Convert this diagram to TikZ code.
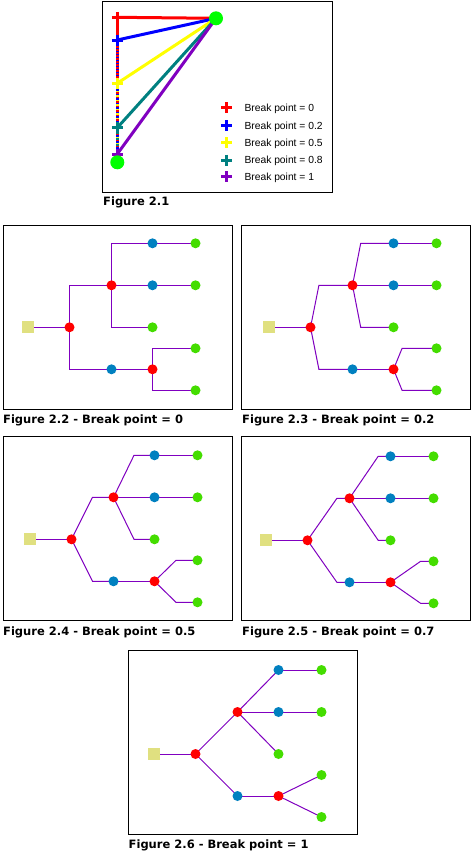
\documentclass[tikz,border=0pt]{standalone}
\usepackage{fontspec}
\newfontfamily\capfont{DejaVu Sans}
\newfontfamily\legfont{Liberation Sans}
\usetikzlibrary{calc,backgrounds}
\definecolor{edgecol}{RGB}{128,0,192}
\definecolor{sqcol}{RGB}{224,224,128}
\definecolor{nred}{RGB}{255,0,0}
\definecolor{nblue}{RGB}{0,128,192}
\definecolor{ngreen}{RGB}{68,221,0}
\definecolor{bgreen}{RGB}{0,255,0}
\definecolor{rblue}{RGB}{0,0,255}
\definecolor{ryellow}{RGB}{255,255,0}
\definecolor{rteal}{RGB}{0,128,128}
\definecolor{rpurple}{RGB}{128,0,192}
\tikzset{
  frame/.style={draw=black,line width=1pt},
  capt/.style={anchor=base west,inner sep=0pt,font=\capfont\bfseries\fontsize{11.5}{13}\selectfont},
  leg/.style={anchor=base west,inner sep=0pt,font=\legfont\fontsize{10.3}{12}\selectfont},
  sqnode/.style={rectangle,fill=sqcol,draw=none,minimum size=12pt,inner sep=0pt},
  rdn/.style={circle,fill=nred,draw=none,minimum size=10pt,inner sep=0pt},
  bln/.style={circle,fill=nblue,draw=none,minimum size=10pt,inner sep=0pt},
  grn/.style={circle,fill=ngreen,draw=none,minimum size=10pt,inner sep=0pt},
  bignode/.style={circle,fill=bgreen,draw=none,minimum size=14pt,inner sep=0pt},
  edge/.style={draw=edgecol,line width=1pt},
  route/.style={line width=3pt},
  plus/.pic={\draw[line width=3pt] (-5.5,0) -- (5.5,0) (0,-5.5) -- (0,5.5);}
}
\newcommand\breakEdge[3]{%
  \coordinate (brk) at ($(#2.center)!#1!(#3.center)$);
  \draw[edge] (#2.center) -- (brk |- #3.center) -- (#3.center);}
\newcommand\drawTreeFig[4]{%
\begin{scope}[shift={(#2,#3)}]
  \node[sqnode] (#1s) at (0,0) {};
  \node[rdn] (#1r) at (41.5,0) {};
  \node[rdn] (#1u) at (83.5,-42) {};
  \node[bln] (#1lb) at (83.5,42) {};
  \node[bln] (#1bA) at (124.5,-84) {};
  \node[bln] (#1bB) at (124.5,-42) {};
  \node[grn] (#1gm) at (124.5,0) {};
  \node[rdn] (#1lr) at (124.5,42) {};
  \node[grn] (#1gA) at (167.5,-84) {};
  \node[grn] (#1gB) at (167.5,-42) {};
  \node[grn] (#1gC) at (167.5,21) {};
  \node[grn] (#1gD) at (167.5,63) {};
  \begin{scope}[on background layer]
    \draw[edge] (#1s.center) -- (#1r.center);
    \breakEdge{#4}{#1r}{#1u}
    \breakEdge{#4}{#1r}{#1lb}
    \breakEdge{#4}{#1u}{#1bA}
    \breakEdge{#4}{#1u}{#1bB}
    \breakEdge{#4}{#1u}{#1gm}
    \breakEdge{#4}{#1lb}{#1lr}
    \breakEdge{#4}{#1lr}{#1gC}
    \breakEdge{#4}{#1lr}{#1gD}
    \breakEdge{#4}{#1bA}{#1gA}
    \breakEdge{#4}{#1bB}{#1gB}
  \end{scope}
\end{scope}}
\begin{document}
\begin{tikzpicture}[x=1pt,y=-1pt]
\useasboundingbox (0,0) rectangle (475,854);
\begin{scope}[on background layer]
\fill[white] (0,0) rectangle (475,854);
\end{scope}

% ---------- Figure 2.1 ----------
\draw[frame] (102.5,1.5) rectangle (332.5,192.5);
\coordinate (cR) at (117.3,17.3);
\coordinate (cB) at (117.3,40);
\coordinate (cY) at (117.3,83.3);
\coordinate (cT) at (117.3,127.7);
\coordinate (cP) at (117.3,154);
\coordinate (gbot) at (117.3,162.3);
\coordinate (gtop) at (216,18.3);
% vertical shared part
\draw[route,nred] (cR) -- (gbot);
\draw[route,rblue,dash pattern=on 1.5pt off 1.5pt,dash phase=1.5pt] (cB) -- (cY);
\draw[route,rblue,dash pattern=on 1.5pt off 3pt,dash phase=3pt] (cY) -- (cT);
\draw[route,ryellow,dash pattern=on 1.5pt off 3pt,dash phase=1.5pt] (cY) -- (cT);
\draw[route,rblue,dash pattern=on 1.5pt off 4.5pt,dash phase=4.5pt] (cT) -- (cP);
\draw[route,ryellow,dash pattern=on 1.5pt off 4.5pt,dash phase=3pt] (cT) -- (cP);
\draw[route,rteal,dash pattern=on 1.5pt off 4.5pt,dash phase=1.5pt] (cT) -- (cP);
\draw[route,rblue,dash pattern=on 1.5pt off 6pt,dash phase=6pt] (cP) -- (gbot);
\draw[route,ryellow,dash pattern=on 1.5pt off 6pt,dash phase=4.5pt] (cP) -- (gbot);
\draw[route,rteal,dash pattern=on 1.5pt off 6pt,dash phase=3pt] (cP) -- (gbot);
\draw[route,rpurple,dash pattern=on 1.5pt off 6pt,dash phase=1.5pt] (cP) -- (gbot);
% diagonals
\draw[route,nred] (cR) -- (gtop);
\draw[route,rblue] (cB) -- (gtop);
\draw[route,ryellow] (cY) -- (gtop);
\draw[route,rteal] (cT) -- (gtop);
\draw[route,rpurple] (cP) -- (gtop);
\pic[nred] at (cR) {plus};
\pic[rblue] at (cB) {plus};
\pic[ryellow] at (cY) {plus};
\pic[rteal] at (cT) {plus};
\pic[rpurple] at (cP) {plus};
\node[bignode] (gb) at (gbot) {};
\node[bignode] (gt) at (gtop) {};
% legend
\pic[nred] at (226.7,107.7) {plus};
\pic[rblue] at (226.7,125.7) {plus};
\pic[ryellow] at (226.7,142.7) {plus};
\pic[rteal] at (226.7,160) {plus};
\pic[rpurple] at (226.7,176.7) {plus};
\node[leg] (l1) at (244.3,111.3) {Break point = 0};
\node[leg] (l2) at (244.3,129.3) {Break point = 0.2};
\node[leg] (l3) at (244.3,146.3) {Break point = 0.5};
\node[leg] (l4) at (244.3,163.6) {Break point = 0.8};
\node[leg] (l5) at (244.3,180.3) {Break point = 1};
\node[capt] (c1) at (103,205) {Figure 2.1};

% ---------- Figures 2.2 - 2.6 ----------
\draw[frame] (3.5,225.5) rectangle (232.5,409.5);
\draw[frame] (241.5,225.5) rectangle (470.5,409.5);
\draw[frame] (3.5,436.5) rectangle (232.5,620.5);
\draw[frame] (241.5,436.5) rectangle (470.5,620.5);
\draw[frame] (128.5,650.5) rectangle (357.5,834.5);

\drawTreeFig{ta}{28}{327.3}{0}
\drawTreeFig{tb}{269}{327.3}{0.2}
\drawTreeFig{tc}{30}{539.3}{0.5}
\drawTreeFig{td}{266}{540.3}{0.7}
\drawTreeFig{te}{154}{754}{1}

\node[capt] (c2) at (3,423) {Figure 2.2 - Break point = 0};
\node[capt] (c3) at (242,423) {Figure 2.3 - Break point = 0.2};
\node[capt] (c4) at (3,635) {Figure 2.4 - Break point = 0.5};
\node[capt] (c5) at (242,635) {Figure 2.5 - Break point = 0.7};
\node[capt] (c6) at (128.5,848.3) {Figure 2.6 - Break point = 1};
\end{tikzpicture}
\end{document}
